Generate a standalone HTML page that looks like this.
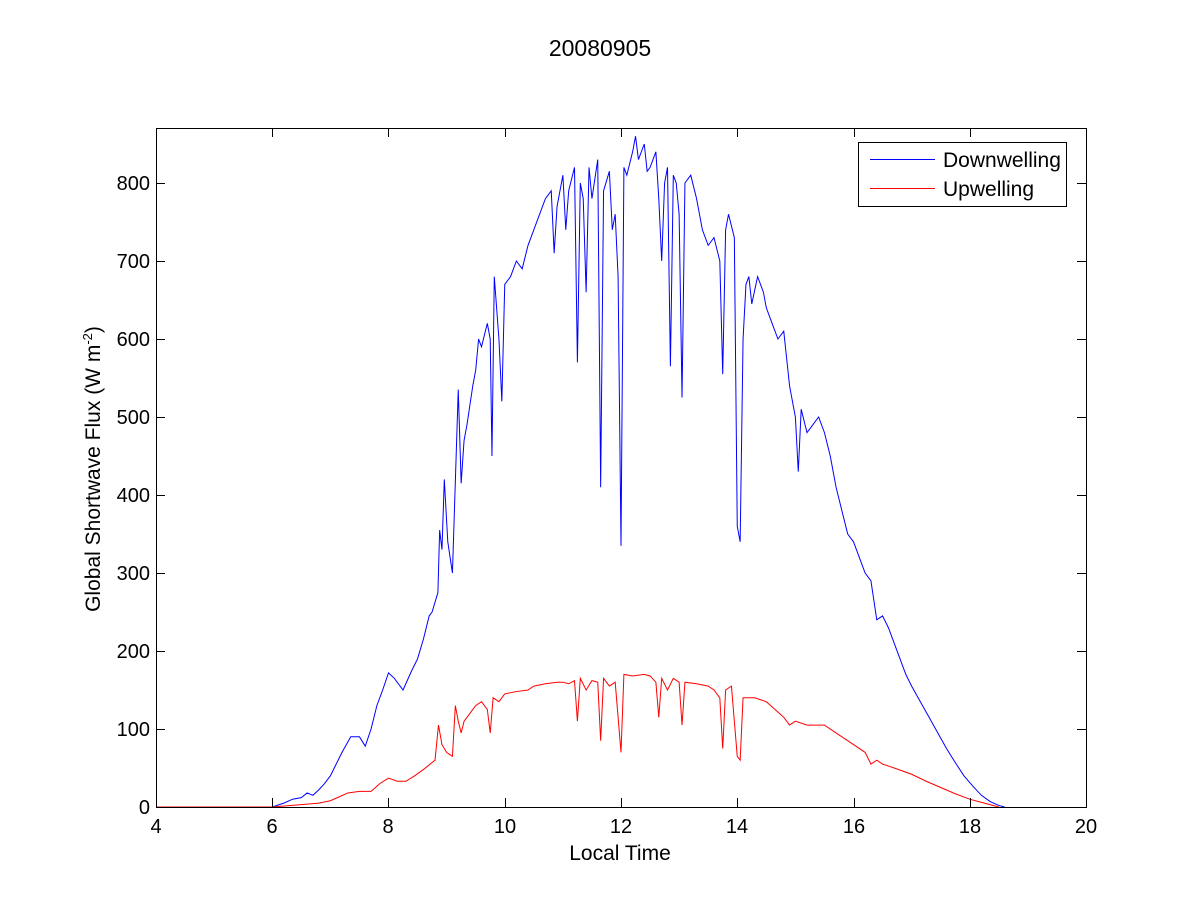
<!DOCTYPE html>
<html><head><meta charset="utf-8"><style>
body{margin:0;background:#fff;}
svg{display:block;font-family:"Liberation Sans",Arial,sans-serif;}
</style></head><body>
<svg width="1200" height="900" viewBox="0 0 1200 900">
<rect width="1200" height="900" fill="#fff"/>
<text x="600" y="56" font-size="23" text-anchor="middle">20080905</text>
<g transform="translate(156,807) scale(58.125,-0.78) translate(-4,0)" fill="none" stroke-width="1">
<polyline vector-effect="non-scaling-stroke" stroke="#0000ff" points="4,0 6.0,0 6.2,5 6.35,10 6.5,12 6.6,18 6.7,15 6.8,22 6.9,30 7.0,40 7.1,55 7.2,70 7.35,90 7.5,90 7.6,78 7.7,100 7.8,130 7.9,150 8.0,172 8.1,165 8.25,150 8.4,175 8.5,190 8.6,215 8.7,245 8.75,250 8.85,275 8.88,355 8.92,330 8.96,420 9.02,340 9.1,300 9.2,535 9.25,415 9.3,470 9.35,490 9.45,540 9.5,560 9.55,600 9.6,590 9.7,620 9.75,600 9.78,450 9.82,680 9.9,600 9.95,520 10.0,670 10.1,680 10.2,700 10.3,690 10.4,720 10.5,740 10.6,760 10.7,780 10.8,790 10.85,710 10.9,770 11.0,810 11.05,740 11.1,790 11.2,820 11.25,570 11.3,800 11.35,780 11.4,660 11.45,820 11.5,780 11.6,830 11.65,410 11.7,790 11.8,815 11.85,740 11.9,760 11.95,680 12.0,335 12.05,820 12.1,810 12.2,840 12.25,860 12.3,830 12.4,850 12.45,815 12.5,820 12.6,840 12.65,780 12.7,700 12.75,800 12.8,820 12.85,565 12.9,810 12.95,800 13.0,760 13.05,525 13.1,800 13.2,810 13.3,780 13.35,760 13.4,740 13.5,720 13.6,730 13.7,700 13.75,555 13.8,740 13.85,760 13.95,730 14.0,360 14.05,340 14.1,600 14.15,670 14.2,680 14.25,645 14.35,680 14.45,660 14.5,640 14.6,620 14.7,600 14.8,610 14.9,540 15.0,500 15.05,430 15.1,510 15.2,480 15.3,490 15.4,500 15.5,480 15.6,450 15.7,410 15.8,380 15.9,350 16.0,340 16.1,320 16.2,300 16.3,290 16.4,240 16.5,245 16.6,230 16.7,210 16.8,190 16.9,170 17.0,155 17.15,135 17.3,115 17.45,95 17.6,75 17.75,57 17.9,40 18.05,27 18.2,15 18.35,7 18.5,2 18.6,0"/>
<polyline vector-effect="non-scaling-stroke" stroke="#ff0000" points="4,0 6.0,0 6.5,3 6.8,5 7.0,8 7.15,13 7.3,18 7.5,20 7.7,20 7.85,30 8.0,37 8.15,33 8.3,33 8.45,40 8.6,48 8.8,60 8.86,105 8.92,80 9.0,70 9.1,65 9.15,130 9.2,110 9.25,95 9.3,110 9.4,120 9.5,130 9.6,135 9.7,125 9.75,95 9.8,140 9.9,135 10.0,145 10.2,148 10.4,150 10.5,155 10.7,158 10.9,160 11.0,160 11.1,158 11.2,162 11.25,110 11.3,165 11.4,150 11.5,162 11.6,160 11.65,85 11.7,165 11.8,155 11.9,160 12.0,70 12.05,170 12.2,168 12.4,170 12.5,168 12.6,160 12.65,115 12.7,165 12.8,150 12.9,165 13.0,160 13.05,105 13.1,160 13.3,158 13.5,155 13.6,150 13.7,140 13.75,75 13.8,150 13.9,155 14.0,65 14.05,60 14.1,140 14.3,140 14.5,135 14.65,125 14.8,115 14.9,105 15.0,110 15.2,105 15.5,105 15.7,95 15.9,85 16.0,80 16.2,70 16.3,55 16.4,60 16.5,55 16.7,50 17.0,42 17.25,33 17.5,25 17.75,17 18.0,10 18.25,5 18.5,0"/>
</g>
<g stroke="#000" stroke-width="1" fill="none">
<rect x="156.5" y="128.5" width="930" height="679"/>
<path d="M272.5,807v-9M388.5,807v-9M505.5,807v-9M621.5,807v-9M737.5,807v-9M854.5,807v-9M970.5,807v-9M272.5,128v9M388.5,128v9M505.5,128v9M621.5,128v9M737.5,128v9M854.5,128v9M970.5,128v9"/>
<path d="M156,729.5h9M156,651.5h9M156,573.5h9M156,495.5h9M156,417.5h9M156,339.5h9M156,261.5h9M156,183.5h9M1086,729.5h-9M1086,651.5h-9M1086,573.5h-9M1086,495.5h-9M1086,417.5h-9M1086,339.5h-9M1086,261.5h-9M1086,183.5h-9"/>
</g>
<g font-size="20" text-anchor="middle">
<text x="156" y="833">4</text><text x="272" y="833">6</text><text x="388" y="833">8</text><text x="505" y="833">10</text><text x="621" y="833">12</text><text x="737" y="833">14</text><text x="854" y="833">16</text><text x="970" y="833">18</text><text x="1086" y="833">20</text>
</g>
<g font-size="20" text-anchor="end">
<text x="150" y="814">0</text><text x="150" y="736">100</text><text x="150" y="658">200</text><text x="150" y="580">300</text><text x="150" y="502">400</text><text x="150" y="424">500</text><text x="150" y="346">600</text><text x="150" y="268">700</text><text x="150" y="190">800</text>
</g>
<text x="620" y="860" font-size="21" text-anchor="middle">Local Time</text>
<text transform="translate(100,469) rotate(-90)" font-size="21" text-anchor="middle">Global Shortwave Flux (W m<tspan font-size="13" dy="-8">-2</tspan><tspan dy="8">)</tspan></text>
<rect x="858.5" y="142.5" width="208" height="64" fill="#fff" stroke="#000"/>
<line x1="870" y1="159.5" x2="935" y2="159.5" stroke="#0000ff"/>
<line x1="870" y1="188.5" x2="935" y2="188.5" stroke="#ff0000"/>
<text x="943" y="167" font-size="21">Downwelling</text>
<text x="943" y="196" font-size="21">Upwelling</text>
</svg>
</body></html>
